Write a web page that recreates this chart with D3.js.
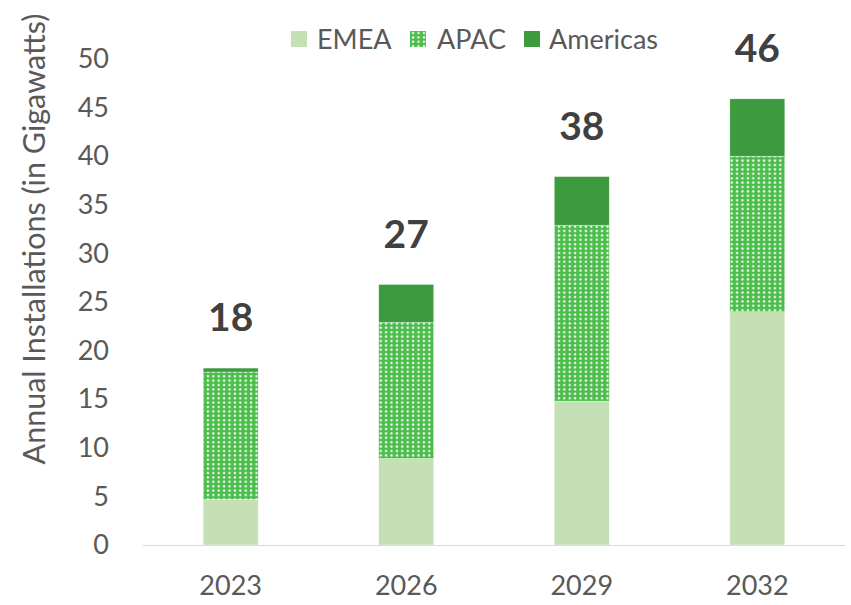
<!DOCTYPE html>
<html>
<head>
<meta charset="utf-8">
<script src="https://cdn.jsdelivr.net/npm/d3@7"></script>
<style>
  body { margin: 0; background: #fff; }
  svg { display: block; font-family: Lato, "Open Sans", sans-serif; }
</style>
</head>
<body>
<svg id="chart" width="851" height="605"></svg>
<script>
// Annual installations by region (GW)
const years = ["2023", "2026", "2029", "2032"];
const emea = [4.7, 8.9, 14.8, 24.0];
const apac = [13.1, 14.0, 18.1, 16.0];
const americas = [0.4, 3.9, 5.0, 5.9];
const totalLabels = ["18", "27", "38", "46"];
const yTicks = [0, 5, 10, 15, 20, 25, 30, 35, 40, 45, 50];
const seriesNames = ["EMEA", "APAC", "Americas"];

const svg = d3.select("#chart");
const margin = { left: 143, right: 6, top: 59, bottom: 60 };
const W = 851, H = 605;

const rows = years.map((y, i) => ({ year: y, EMEA: emea[i], APAC: apac[i], Americas: americas[i] }));
const stacked = d3.stack().keys(seriesNames)(rows);

const x = d3.scaleBand().domain(years).range([margin.left, W - margin.right]).paddingInner(0.687).paddingOuter(0.343);
const y = d3.scaleLinear().domain([0, 50]).range([H - margin.bottom, margin.top]);

// dotted fill for APAC
const defs = svg.append("defs");
const pat = defs.append("pattern").attr("id", "apacDots").attr("patternUnits", "userSpaceOnUse")
  .attr("width", 5.4).attr("height", 4.4);
pat.append("rect").attr("width", 5.4).attr("height", 4.4).attr("fill", "#4bbd4b");
pat.append("rect").attr("x", 1.6).attr("y", 1.2).attr("width", 2.2).attr("height", 2).attr("fill", "#ffffff");

const fills = { EMEA: "#c5e0b4", APAC: "url(#apacDots)", Americas: "#3c9b3f" };

// baseline
svg.append("line").attr("x1", margin.left).attr("x2", W - margin.right)
  .attr("y1", y(0) + 0.5).attr("y2", y(0) + 0.5).attr("stroke", "#d9d9d9").attr("stroke-width", 1.2);

// bars
stacked.forEach(s => {
  svg.append("g").selectAll("rect").data(s).join("rect")
    .attr("x", d => x(d.data.year))
    .attr("width", x.bandwidth())
    .attr("y", d => y(d[1]))
    .attr("height", d => y(d[0]) - y(d[1]))
    .attr("fill", fills[s.key])
    .attr("stroke", "#ffffff").attr("stroke-width", 0.6).attr("stroke-opacity", 0.5);
});

// y axis
const yAxis = d3.axisLeft(y).tickValues(yTicks).tickSize(0).tickPadding(0);
const yg = svg.append("g").attr("transform", `translate(109,0)`).call(yAxis);
yg.select(".domain").remove();
yg.selectAll("text").attr("fill", "#595959").style("font-size", "27px").style("font-family", "Lato, sans-serif");

// x axis
const xAxis = d3.axisBottom(x).tickSize(0).tickPadding(0);
const xg = svg.append("g").attr("transform", `translate(0,${y(0) + 31})`).call(xAxis);
xg.select(".domain").remove();
xg.selectAll("text").attr("fill", "#595959").style("font-size", "27px").style("font-family", "Lato, sans-serif");

// totals above bars
svg.append("g").selectAll("text").data(rows).join("text")
  .attr("x", d => x(d.year) + x.bandwidth() / 2)
  .attr("y", d => y(d.EMEA + d.APAC + d.Americas) - 37)
  .attr("text-anchor", "middle")
  .attr("fill", "#404040")
  .style("font-size", "39px").style("font-weight", "bold")
  .text((d, i) => totalLabels[i]);

// y axis title
svg.append("text")
  .attr("transform", `translate(45,239) rotate(-90)`)
  .attr("text-anchor", "middle")
  .attr("fill", "#595959")
  .style("font-size", "30.5px")
  .text("Annual Installations (in Gigawatts)");

// legend
const legendItems = [
  { name: "EMEA", sx: 291, tx: 317 },
  { name: "APAC", sx: 410, tx: 437 },
  { name: "Americas", sx: 524, tx: 549 }
];
const lg = svg.append("g");
legendItems.forEach(it => {
  lg.append("rect").attr("x", it.sx).attr("y", 31).attr("width", 16).attr("height", 16).attr("fill", fills[it.name]);
  lg.append("text").attr("x", it.tx).attr("y", 49).attr("fill", "#595959")
    .style("font-size", "27px").text(it.name);
});
</script>
</body>
</html>
